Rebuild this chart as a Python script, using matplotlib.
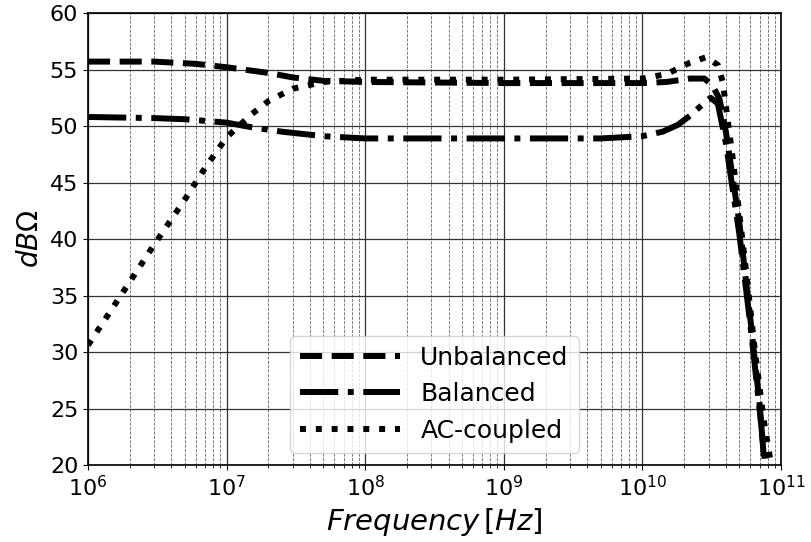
import matplotlib
matplotlib.use('Agg')
import matplotlib.pyplot as plt

# frequency points [Hz] and levels [dBOhm]
f_unbal = [1e6, 3e6, 6e6, 1e7, 2e7, 3e7, 5e7, 1e8, 1e9, 1e10, 1.5e10, 2.2e10, 2.8e10,
           3.2e10, 3.6e10, 4e10, 5e10, 6e10, 7e10, 7.6e10]
v_unbal = [55.7, 55.7, 55.5, 55.2, 54.7, 54.3, 54.0, 53.9, 53.8, 53.8, 53.9, 54.2, 54.2,
           53.6, 52.4, 49.5, 41.5, 33.0, 25.5, 20.0]

f_bal = [1e6, 3e6, 5e6, 1e7, 1.5e7, 2.5e7, 5e7, 1e8, 1e9, 5e9, 1e10, 1.4e10, 1.8e10,
         2.2e10, 2.6e10, 3.1e10, 3.5e10, 4e10, 5e10, 6e10, 7e10, 7.7e10]
v_bal = [50.8, 50.7, 50.6, 50.3, 49.9, 49.5, 49.1, 48.9, 48.9, 48.9, 49.1, 49.5, 50.1,
         50.9, 51.7, 52.5, 52.0, 48.5, 40.5, 32.5, 25.0, 20.0]

f_ac = [1e6, 2e6, 3e6, 5e6, 7e6, 1e7, 1.5e7, 2e7, 3e7, 5e7, 1e8, 1e9, 1e10, 1.5e10,
        2.2e10, 2.9e10, 3.5e10, 3.8e10, 4.5e10, 5.5e10, 6.5e10, 7.5e10, 8.5e10]
v_ac = [30.6, 36.2, 39.5, 43.5, 46.3, 49.0, 51.0, 52.2, 53.3, 53.9, 54.1, 54.1, 54.2, 54.6,
        55.6, 56.1, 55.4, 53.9, 47.0, 38.0, 30.0, 24.0, 20.0]

labels = ['Unbalanced', 'Balanced', 'AC-coupled']

plt.rcParams['font.family'] = ['DejaVu Sans']

fig, ax = plt.subplots(figsize=(8.11, 5.42), dpi=100)
fig.subplots_adjust(left=0.1085, right=0.963, bottom=0.142, top=0.976)

lw = 4.3
ax.semilogx(f_unbal, v_unbal, '--', color='black', lw=lw, label=labels[0])
ax.semilogx(f_bal, v_bal, '-.', color='black', lw=lw, label=labels[1])
ax.semilogx(f_ac, v_ac, ':', color='black', lw=lw, label=labels[2])

ax.set_xlim(1e6, 1e11)
ax.set_ylim(20, 60)
ax.set_yticks(range(20, 61, 5))

ax.grid(True, which='major', color='#333333', linestyle='-', linewidth=0.9)
ax.grid(True, which='minor', axis='x', color='#666666', linestyle='--', linewidth=0.6)

ax.tick_params(labelsize=16)
for s in ax.spines.values():
    s.set_linewidth(1.2)

ax.set_xlabel(r'$Frequency\,[Hz]$', fontsize=21)
ax.set_ylabel(r'$dB\Omega$', fontsize=20)

ax.legend(loc='lower center', fontsize=18, handlelength=4)

fig.savefig('out.png', dpi=100)
